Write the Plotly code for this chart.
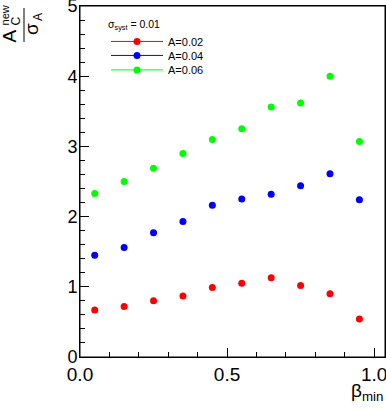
import plotly.graph_objects as go

beta_min = [0.05, 0.15, 0.25, 0.35, 0.45, 0.55, 0.65, 0.75, 0.85, 0.95]
a_002 = [0.67, 0.72, 0.80, 0.87, 0.99, 1.05, 1.13, 1.02, 0.90, 0.54]
a_004 = [1.45, 1.56, 1.77, 1.93, 2.16, 2.25, 2.32, 2.44, 2.61, 2.24]
a_006 = [2.33, 2.50, 2.69, 2.90, 3.10, 3.25, 3.56, 3.62, 4.00, 3.07]

series = [("A=0.02", a_002, "#ff0000"),
          ("A=0.04", a_004, "#0000ff"),
          ("A=0.06", a_006, "#00ff00")]

W, H = 386, 409
L, R, T, B = 80, 1, 6, 51.5
pw, ph = W - L - R, H - T - B

def px(x):
    return (x - L) / pw

def py(y):
    return (H - B - y) / ph

font = "Liberation Sans, Arial, sans-serif"

fig = go.Figure()
legend_rows = [41.5, 55.5, 70]
for i, (name, vals, col) in enumerate(series):
    lg = "legend" if i == 0 else "legend%d" % (i + 1)
    fig.add_trace(go.Scatter(x=beta_min, y=vals, mode="markers", showlegend=False,
                             marker=dict(color=col, size=7)))
    # legend entry with line + marker like the ROOT legend
    fig.add_trace(go.Scatter(x=[None], y=[None], mode="lines+markers", name=name,
                             legend=lg, line=dict(color=col, width=1),
                             marker=dict(color=col, size=7)))
    fig.update_layout({lg: dict(x=px(106), y=py(legend_rows[i]), xanchor="left",
                                yanchor="middle", bgcolor="rgba(0,0,0,0)",
                                font=dict(size=11, family=font), itemwidth=52)})

fig.update_layout(
    width=W, height=H,
    margin=dict(l=L, r=R, t=T, b=B),
    plot_bgcolor="white", paper_bgcolor="white",
    font=dict(family=font, color="black"),
    showlegend=True,
    xaxis=dict(range=[0, 1.037], showgrid=False, zeroline=False, automargin=False,
               showline=True, linecolor="black", linewidth=1, mirror=True,
               ticks="inside", ticklen=9, tickcolor="black",
               tickvals=[0, 0.5, 1.0], ticktext=["0.0", "0.5", "1.0"],
               tickfont=dict(size=19), ticklabeloverflow="allow",
               minor=dict(ticks="inside", ticklen=5, dtick=0.1, tickcolor="black")),
    yaxis=dict(range=[0, 5], showgrid=False, zeroline=False, automargin=False,
               showline=True, linecolor="black", linewidth=1, mirror=True,
               ticks="inside", ticklen=9, tickcolor="black", dtick=1,
               tickfont=dict(size=18), ticklabelstandoff=-2, ticklabeloverflow="allow",
               minor=dict(ticks="inside", ticklen=5, dtick=0.2, tickcolor="black")),
)

# frame around the plot area
fig.add_shape(type="rect", xref="paper", yref="paper", x0=0, x1=1, y0=0, y1=1,
              line=dict(color="black", width=1), layer="above")

# legend header
fig.add_annotation(text="σ<sub>syst</sub> = 0.01", x=px(106), y=py(25), xref="paper",
                   yref="paper", xanchor="left", yanchor="middle", showarrow=False,
                   font=dict(size=10.5))

# y title: A_C^new / sigma_A, rotated
yt = [("A", 9, 36.5, 19), ("C", 16, 21.5, 12), ("new", 4.5, 16, 11),
      ("σ", 32, 29, 19), ("A", 38.5, 17.5, 12)]
for txt, x, y, s in yt:
    fig.add_annotation(text=txt, x=px(x), y=py(y), xref="paper", yref="paper",
                       xanchor="center", yanchor="middle", textangle=-90,
                       showarrow=False, font=dict(size=s))
fig.add_shape(type="line", xref="paper", yref="paper",
              x0=px(24), x1=px(24), y0=py(8), y1=py(42),
              line=dict(color="black", width=1))

# x title
fig.add_annotation(text="β<sub>min</sub>", x=1, y=py(393), xref="paper", yref="paper",
                   xanchor="right", yanchor="middle", showarrow=False,
                   font=dict(size=19))

# page body has a default 8px margin; drop it so the figure sits at the corner
fig.write_html("out.html", config={"displayModeBar": False},
               post_script="document.body.style.margin='0';")
